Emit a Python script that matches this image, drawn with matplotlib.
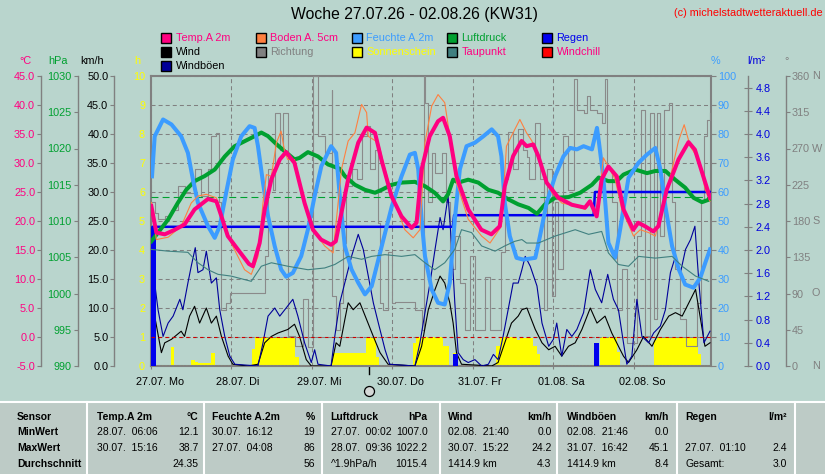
import numpy as np
import matplotlib
matplotlib.use("Agg")
import matplotlib.pyplot as plt
from matplotlib.patches import Rectangle
from matplotlib.lines import Line2D
from matplotlib.transforms import blended_transform_factory

plt.rcParams['font.family'] = ['Liberation Sans', 'DejaVu Sans']
plt.rcParams['lines.scale_dashes'] = False

# ---------------- data (time in hours from 27.07. 00:00) ----------------
day_labels = ["27.07. Mo", "28.07. Di", "29.07. Mi", "30.07. Do", "31.07. Fr", "01.08. Sa", "02.08. So"]

temp_t = [0.1,1.6,4.1,7.1,10.0,13.0,17.0,19.5,21.0,22.9,25.9,29.2,30.4,32.4,33.9,35.9,38.4,40.3,42.8,45.8,
          48.3,50.7,53.7,55.1,56.3,58.8,61.8,64.3,66.8,68.7,71.7,74.7,77.7,79.2,80.7,83.1,85.6,87.1,89.1,91.1,
          94.6,98.5,101.5,104.0,105.5,108.0,110.5,112.0,114.0,115.5,118.0,121.5,125.5,129.4,130.9,132.9,134.4,
          136.4,138.9,140.9,143.8,145.3,147.3,149.8,151.3,153.8,157.3,160.3,162.2,164.7,166.7]
temp_v = [22.6,18.0,17.7,18.5,19.4,22.0,23.8,23.4,20.8,17.4,15.1,12.6,12.2,16.2,22.0,27.2,30.6,31.9,30.0,23.1,
          18.5,16.8,15.9,16.5,20.0,27.2,33.5,36.1,35.2,30.6,24.3,20.8,18.8,19.7,28.9,34.6,37.2,37.8,34.6,27.7,
          22.0,18.5,17.7,19.1,26.0,31.2,33.8,32.9,33.2,31.2,26.6,24.0,22.8,22.3,23.4,20.8,27.2,29.4,27.7,22.0,
          18.5,19.7,19.1,18.2,19.1,25.4,30.6,33.6,32.3,27.7,24.0]

soil_t = [0.1,1.6,5.1,9.0,12.0,14.0,16.5,19.5,21.0,23.9,27.9,29.9,31.9,33.4,34.4,35.9,37.4,38.8,39.9,40.8,
          42.8,45.8,48.8,51.8,54.3,56.8,58.8,60.8,62.8,64.3,64.8,67.8,69.8,72.7,75.7,78.2,80.2,81.7,83.7,85.6,
          87.6,89.1,91.1,94.6,98.6,101.1,104.5,106.0,108.5,110.0,112.0,113.6,116.6,119.5,122.5,126.5,129.5,131.0,
          133.0,134.9,136.4,138.4,140.4,143.9,145.9,148.4,150.4,152.4,155.4,157.3,159.0,160.8,163.3,165.3,166.7]
soil_v = [23.2,16.8,17.2,19.1,23.1,24.3,24.6,24.0,20.8,16.2,11.6,10.8,13.9,23.1,28.0,27.7,33.5,35.5,31.8,30.6,
          30.6,22.6,18.0,15.7,14.5,28.9,33.8,35.2,40.1,38.7,34.6,33.5,28.9,23.1,18.5,17.1,18.5,33.5,39.8,41.8,
          40.4,34.6,26.6,20.3,17.4,16.2,19.1,32.9,35.8,37.5,35.2,33.8,28.9,24.9,23.1,22.6,22.0,23.1,20.8,30.9,
          29.4,27.2,22.0,17.4,18.5,18.0,17.4,22.0,28.9,33.8,36.6,32.9,30.6,25.4,23.4]

hum_t = [0.3,1.1,3.6,6.1,9.0,11.0,12.5,14.0,17.0,19.0,20.5,22.4,24.4,26.9,29.4,30.9,31.9,33.4,34.9,36.9,
         38.8,40.3,42.3,44.8,46.8,48.8,50.8,53.7,55.2,56.3,57.8,59.8,61.8,63.8,65.8,68.8,71.8,74.7,77.2,78.7,
         79.7,80.7,81.7,83.7,85.6,87.6,89.1,90.6,92.1,94.1,96.6,99.1,101.6,103.5,104.5,105.5,107.0,109.0,111.0,
         114.6,116.0,118.0,120.5,123.0,125.0,127.0,129.0,131.5,133.0,133.6,134.9,136.4,138.4,139.9,142.4,145.4,
         147.9,150.4,151.9,153.4,155.4,157.4,159.3,161.8,163.8,165.3,166.7]
hum_v = [65.4,79.2,85.0,83.3,79.2,73.5,64.3,56.3,48.2,44.2,48.2,59.7,71.2,79.2,82.7,82.1,75.8,63.2,51.7,41.3,
         33.3,30.8,32.1,37.9,47.1,58.6,68.9,75.8,73.5,58.6,41.3,33.3,28.7,24.7,27.5,41.3,55.0,65.4,72.9,73.5,
         67.8,50.5,37.9,26.4,21.8,21.2,28.7,50.5,67.8,75.8,77.0,79.2,81.6,79.2,72.3,56.3,44.8,37.3,36.7,37.3,
         44.8,56.3,65.4,72.3,75.2,74.7,75.8,74.7,82.1,77.0,64.9,42.5,37.3,47.1,64.9,70.1,72.9,75.2,67.8,55.0,
         41.3,33.3,28.1,27.0,30.4,35.6,40.2]

pres_t = [0.1,2.1,5.1,8.0,10.5,13.0,16.0,19.0,22.0,24.9,27.9,30.9,32.9,34.9,37.4,39.9,42.8,44.3,46.8,49.8,
          52.8,56.3,57.8,60.8,63.8,66.8,68.8,71.8,74.7,78.7,81.7,84.6,87.1,88.6,90.1,91.6,94.6,97.6,100.6,103.5,
          106.5,109.5,112.6,115.1,117.5,120.5,124.5,128.0,131.5,133.5,136.4,138.9,140.9,144.4,147.9,150.4,153.4,
          156.3,159.3,161.8,164.3,166.7]
pres_v = [1007.2,1008.4,1010.2,1012.5,1014.3,1015.5,1016.2,1017.1,1018.9,1020.3,1021.0,1021.7,1022.2,1021.7,
          1020.6,1019.6,1018.5,1018.7,1019.5,1018.9,1017.8,1017.2,1016.2,1015.0,1014.3,1013.9,1014.3,1015.0,
          1015.3,1015.4,1014.8,1013.9,1012.7,1013.7,1015.7,1015.3,1015.7,1015.3,1014.3,1013.9,1013.0,1012.3,
          1011.8,1011.0,1012.3,1013.2,1013.3,1013.9,1015.0,1016.0,1015.5,1015.5,1016.4,1017.1,1016.6,1016.9,
          1016.9,1015.7,1014.6,1013.2,1012.6,1013.0]

dew_t = [0.1,5.1,11.0,14.0,17.0,20.0,23.9,27.9,29.9,32.9,35.9,40.8,46.8,51.8,54.8,58.8,62.8,65.8,69.8,74.7,
         78.7,81.7,84.6,87.6,90.6,92.6,95.6,98.6,102.6,105.5,108.5,110.6,112.0,115.5,120.5,126.5,130.5,134.4,
         136.4,139.4,142.4,145.4,150.4,155.4,158.4,162.4,166.3]
dew_v = [15.1,14.8,14.6,12.8,11.6,10.8,10.5,9.9,9.6,12.2,12.8,12.2,11.6,11.9,12.5,13.9,13.4,13.9,14.2,13.9,
         14.2,12.8,11.6,12.8,15.1,18.5,18.0,15.7,14.8,15.7,16.5,16.8,16.2,16.2,17.4,18.5,17.7,18.2,14.5,12.5,
         12.2,13.9,13.6,13.9,12.2,10.5,9.6]

wind_t = [0.3,1.1,3.1,4.1,6.1,9.0,10.0,11.5,13.0,14.5,16.5,18.0,19.5,21.0,23.0,24.4,28.9,31.9,33.9,35.9,
          37.9,40.8,42.8,44.3,46.3,47.8,53.7,55.2,56.3,57.8,58.8,60.3,62.3,64.3,66.3,68.3,70.7,78.7,80.7,82.7,
          84.7,86.2,87.6,89.1,90.1,91.1,92.6,101.6,103.5,105.5,107.5,109.5,110.6,112.1,114.6,116.6,118.6,120.5,
          122.5,124.5,126.5,128.5,131.0,133.0,135.4,137.4,139.4,140.9,142.4,144.9,146.9,149.4,151.9,154.4,156.4,
          158.4,160.4,162.4,163.9,165.2,166.7]
wind_v = [6.0,8.6,2.3,4.0,4.6,6.0,5.1,8.6,10.3,7.4,10.0,7.4,8.6,5.1,1.7,0.3,0.0,0.3,4.0,5.1,
          5.7,6.3,7.2,5.1,1.1,0.0,0.0,4.0,3.4,8.0,10.9,9.7,10.9,8.0,5.1,2.3,0.3,0.0,3.4,9.7,
          13.2,15.5,14.3,10.9,7.4,2.3,0.3,0.0,0.6,4.0,7.4,8.6,9.7,10.0,6.3,4.0,2.8,3.4,1.7,3.4,
          4.0,6.3,10.0,7.4,8.6,5.7,3.4,1.7,0.6,2.8,5.1,3.4,6.3,8.6,9.2,8.6,10.9,13.2,8.0,3.4,4.0]

gust_t = [0.6,2.1,3.6,5.1,6.6,8.6,9.5,11.0,12.0,13.2,14.0,15.5,16.5,18.0,19.5,20.5,22.0,23.5,25.0,31.9,
          33.4,34.9,36.9,38.4,40.3,42.3,43.8,45.8,47.8,48.8,49.8,53.7,54.8,56.3,58.3,59.8,61.8,63.3,64.8,66.3,
          67.8,69.8,71.2,78.7,80.2,81.7,83.2,84.7,86.2,87.1,88.6,89.6,90.6,91.6,93.1,94.6,96.6,98.6,100.6,102.1,
          103.5,105.0,106.5,108.0,109.5,110.6,111.6,113.1,115.1,116.6,118.6,120.0,121.0,122.5,124.0,125.5,127.0,
          129.0,131.0,132.5,134.4,136.2,137.9,139.4,140.9,141.9,143.4,144.9,146.4,148.4,149.9,151.9,153.4,154.9,
          156.4,157.9,159.4,160.9,162.2,163.4,164.9,166.7]
gust_v = [16.6,9.7,5.1,7.4,8.6,11.5,9.7,14.3,17.2,20.4,16.1,16.6,19.8,14.3,15.2,9.7,5.1,1.7,0.3,0.0,
          4.0,8.6,10.0,8.6,10.0,11.5,8.6,4.0,0.6,2.8,0.3,0.0,5.1,10.9,15.5,18.9,22.7,20.1,15.5,10.9,
          7.4,2.8,0.3,0.0,4.0,9.2,14.3,20.1,25.6,23.5,29.3,21.2,10.9,2.3,1.1,0.6,1.1,0.0,0.3,2.0,
          1.1,5.1,9.7,14.3,14.3,16.6,18.9,17.2,13.8,7.4,3.4,4.6,7.4,1.7,6.3,5.1,6.3,9.2,16.6,13.2,
          10.9,15.8,11.5,9.7,4.0,0.3,1.7,11.5,5.1,4.0,5.7,6.9,9.7,16.1,18.9,16.1,20.1,21.8,24.1,14.3,
          4.0,6.0]

dir_t = [0.1,1.1,2.1,4.1,6.1,8.0,10.0,13.0,15.0,17.0,18.0,19.5,20.2,21.0,22.4,23.5,33.4,33.9,34.9,36.4,
         36.9,38.4,39.3,40.8,42.8,45.3,46.8,48.2,49.8,51.8,54.0,54.1,55.2,56.3,57.2,58.3,59.8,61.3,62.8,64.3,
         65.3,66.8,67.8,68.3,69.3,70.8,71.8,72.8,78.7,80.9,81.3,81.7,82.7,83.7,84.7,86.7,88.1,89.1,90.6,92.1,
         93.6,95.1,96.6,99.6,101.1,104.5,105.5,106.5,108.0,109.5,111.0,112.1,112.6,114.6,116.1,117.1,118.0,119.5,
         120.5,121.5,123.0,124.5,126.0,127.0,129.0,130.0,131.0,133.0,134.4,135.4,135.9,137.4,138.9,140.4,141.9,
         144.9,146.2,147.4,148.9,149.9,150.9,151.9,152.9,154.4,155.4,156.4,157.9,159.4,162.9,163.9,164.9,165.9,166.7]
dir_v = [203,190,182,186,194,223,215,244,211,244,285,289,203,70,78,91,91,136,244,219,
         314,268,314,37,25,83,23,360,285,265,343,87,45,78,153,223,244,232,285,298,
         244,268,178,78,70,141,78,80,70,45,360,327,203,265,240,265,203,120,161,103,
         45,136,45,111,45,141,232,290,244,294,268,260,232,302,232,70,244,87,203,120,
         285,219,356,318,314,335,318,314,302,356,244,203,70,120,29,161,318,37,314,58,
         314,161,318,327,203,120,58,25,78,203,285,306,314]

# sunshine, hours of sun per hour, one list per day
sun_d1 = [0,0,0,0,0,0,0.65,0,0,0,0,0,0.2,0.15,0.1,0.1,0.1,0.1,0.45,0,0,0,0,0]
sun_d2 = [0,0,0,0,0,0,0.6,1,1,1,1,1,1,1,1,1,1,1,1,0.3,0,0,0,0]
sun_d3 = [0,0,0,0,0,0,0.45,0.45,0.45,0.45,0.45,0.45,0.45,0.45,0.45,0.45,1,1,1,0.3,0,0,0,0]
sun_d4 = [0,0,0,0,0,0,0.8,1,1,1,1,1,1,1,1,0.7,0.7,0,0.45,0,0,0,0,0]
sun_d5 = [0,0,0,0,0,0,0,0.7,1,1,1,1,1,0.9,0.95,0.95,0.95,0.95,0.7,0.4,0,0,0,0]
sun_d6 = [0,0,0,0,0,0,0,0,0,0,0,0,0,0,1,1,1,1,1,0.5,0,0,0,0]
sun_d7 = [0,0,0,0,0,0,0.9,1,1,1,1,1,1,1,1,1,1,1,1,0.4,0,0,0,0]

rain_t = [0.0, 90.0, 132.0]
rain_v = [2.4, 0.2, 0.4]

marker_hour = 65.1

sensor_rows = ["Sensor", "MinWert", "MaxWert", "Durchschnitt"]
col_temp = ["Temp.A 2m", "°C", "28.07.  06:06", "12.1", "30.07.  15:16", "38.7", "", "24.35"]
col_hum = ["Feuchte A.2m", "%", "30.07.  16:12", "19", "27.07.  04:08", "86", "", "56"]
col_pres = ["Luftdruck", "hPa", "27.07.  00:02", "1007.0", "28.07.  09:36", "1022.2", "^1.9hPa/h", "1015.4"]
col_wind = ["Wind", "km/h", "02.08.  21:40", "0.0", "30.07.  15:22", "24.2", "1414.9 km", "4.3"]
col_gust = ["Windböen", "km/h", "02.08.  21:46", "0.0", "31.07.  16:42", "45.1", "1414.9 km", "8.4"]
col_rain = ["Regen", "l/m²", "", "", "27.07.  01:10", "2.4", "Gesamt:", "3.0"]

# ---------------- styling ----------------
BG = '#b9d5cd'
TBG = '#bdcbc6'
GRAY = '#808080'
PINK = '#ff0080'
ORANGE = '#ff8040'
HUMC = '#3c9cff'
GREEN = '#00a030'
RAINC = '#0000ee'
NAVY = '#000099'
TEAL = '#408080'
YEL = '#ffff00'
RED = '#ff0000'
FS = 7.8

W, H = 825, 474
fig = plt.figure(figsize=(W / 100, H / 100), dpi=100)
fig.patch.set_facecolor(BG)


def fx(x):
    return x / W


def fy(y):
    return 1 - y / H


L, R, T, B = 151, 711, 76, 366
rect = [fx(L), fy(B), (R - L) / W, (B - T) / H]
ax = fig.add_axes(rect)
ax.set_facecolor(BG)
ax.set_xlim(0, 167)
ax.set_ylim(0, 10)

sunshine = np.array(sun_d1 + sun_d2 + sun_d3 + sun_d4 + sun_d5 + sun_d6 + sun_d7)
hours = np.arange(len(sunshine))
ax.bar(hours, sunshine, width=1.0, align='edge', color=YEL, linewidth=0, zorder=1)

day_ticks = np.arange(len(day_labels)) * 24
ax.set_xticks(day_ticks)
ax.set_xticklabels([])
ax.set_yticks(np.arange(0, 11))
ax.set_yticklabels([str(i) for i in range(11)])
ax.tick_params(axis='y', length=0, pad=4.3, labelcolor=YEL, labelsize=FS)
ax.tick_params(axis='x', length=2.5, width=0.8, color=GRAY, direction='out')
ax.grid(True, color=GRAY, linestyle=(0, (2.9, 2.2)), linewidth=0.75, zorder=2)
ax.set_axisbelow(False)
for s in ax.spines.values():
    s.set_color(GRAY)
    s.set_linewidth(1.5)

btrans = blended_transform_factory(ax.transData, ax.transAxes)
for d, lab in zip(day_ticks, day_labels):
    ax.text(d - 4.5, -0.054, lab, transform=btrans, ha='left', va='center', fontsize=FS, color='black',
            clip_on=False)
ax.plot([marker_hour, marker_hour], [0, -0.026], transform=btrans, color='black', lw=1.0, clip_on=False)
ax.plot([marker_hour], [-0.086], 'o', transform=btrans, ms=7.2, mfc='#d4d8d6', mec='black', mew=0.9,
        clip_on=False)
ax.plot([0, 167], [0.003, 0.003], color=YEL, lw=0.8, ls=(0, (1, 1.5)), zorder=3)


def twin(lims, side, pos, ticks, labels, lcolor, show_spine=True, direction='out', length=4, pad=2):
    a = ax.twinx()
    a.set_ylim(*lims)
    a.patch.set_visible(False)
    for s in a.spines.values():
        s.set_visible(False)
    sp = a.spines[side]
    sp.set_position(('axes', pos))
    sp.set_visible(show_spine)
    sp.set_color(GRAY)
    sp.set_linewidth(1.0)
    if side == 'left':
        a.yaxis.tick_left()
    else:
        a.yaxis.tick_right()
    a.set_yticks(ticks)
    a.set_yticklabels(labels)
    a.tick_params(axis='y', direction=direction, length=length * 0.72, width=0.8, color=GRAY,
                  labelcolor=lcolor, pad=pad * 0.72, labelsize=FS)
    return a


deg_ticks = np.arange(0, 361, 45)
ax_D = twin((0, 360), 'right', (786 - L) / (R - L), deg_ticks, [str(v) for v in deg_ticks], GRAY,
            length=4, pad=1.7)
t_ticks = np.arange(-5, 46, 5)
ax_T_ticks = [f"{v:.1f}" for v in t_ticks]
w_ticks = np.arange(0, 51, 5)
ax_W = twin((0, 50), 'left', (114.3 - L) / (R - L), w_ticks, [f"{v:.1f}" for v in w_ticks], 'black',
            length=4, pad=2)
r_ticks = np.round(np.arange(0, 4.81, 0.4), 1)
ax_R = twin((0, 5), 'right', (748.3 - L) / (R - L), r_ticks, [f"{v:.1f}" for v in r_ticks], '#0000dd',
            direction='inout', length=8, pad=3)
p_ticks = np.arange(990, 1031, 5)
ax_P = twin((990, 1030), 'left', (77.7 - L) / (R - L), p_ticks, [str(v) for v in p_ticks], GREEN,
            length=4, pad=2)
h_ticks = np.arange(0, 101, 10)
ax_H = twin((0, 100), 'right', 1.0, h_ticks, [str(v) for v in h_ticks], HUMC, show_spine=False,
            length=5, pad=2)
ax_T = twin((-5, 45), 'left', (40.7 - L) / (R - L), t_ticks, ax_T_ticks, PINK, length=4, pad=1.5)

# direction
ax_D.plot(dir_t, dir_v, color='#8a8a8a', lw=0.8, drawstyle='steps-post')
dtrans = blended_transform_factory(fig.transFigure, ax_D.transData)
for val, letter in [(360, 'N'), (270, 'W'), (180, 'S'), (90, 'O'), (0, 'N')]:
    ax_D.text(fx(812), val, letter, transform=dtrans, ha='left', va='center', fontsize=FS, color=GRAY,
              clip_on=False)

# wind and gusts
ax_W.plot(wind_t, wind_v, color='black', lw=0.8)
ax_W.plot(gust_t, gust_v, color=NAVY, lw=0.8)

# rain
rain_w = 1.5
ax_R.bar(rain_t, rain_v, width=rain_w, align='edge', color=RAINC, linewidth=0)
rain_cum = np.cumsum(rain_v)
rx, ry = [0.0], [0.0]
prev = 0.0
for t0, c in zip(rain_t, rain_cum):
    rx += [t0, t0 + 0.4]
    ry += [prev, c]
    prev = c
rx.append(temp_t[-1])
ry.append(rain_cum[-1])
ax_R.plot(rx, ry, color=RAINC, lw=1.8)

# pressure
ax_P.axhline(1013.25, color=GREEN, lw=0.8, ls=(0, (5, 3)))
ax_P.plot(pres_t, pres_v, color=GREEN, lw=2.9, solid_joinstyle='round')

# humidity
ax_H.plot(hum_t, hum_v, color=HUMC, lw=2.9, solid_joinstyle='round')

# temperatures
ax_T.axhline(0, color='#cc0000', lw=0.8, ls=(0, (2.5, 2.5)))
ax_T.plot(dew_t, dew_v, color=TEAL, lw=0.8)
ax_T.plot(soil_t, soil_v, color=ORANGE, lw=0.8)
ax_T.plot(temp_t, temp_v, color=PINK, lw=2.9, solid_joinstyle='round')

# ---------------- titles & axis unit labels ----------------
fig.text(fx(414), fy(15), "Woche 27.07.26 - 02.08.26 (KW31)", ha='center', va='center', fontsize=11.3,
         color='black')
fig.text(fx(823), fy(12.5), "(c) michelstadtwetteraktuell.de", ha='right', va='center', fontsize=7.8,
         color=RED)
for x, txt, col in [(25, "°C", PINK), (57.5, "hPa", GREEN), (92, "km/h", 'black'), (137.5, "h", YEL),
                    (715, "%", HUMC), (756.5, "l/m²", '#0000dd'), (787, "°", GRAY)]:
    fig.text(fx(x), fy(61), txt, ha='center', va='center', fontsize=FS, color=col)

# ---------------- legend ----------------
legend_rows = [
    [("Temp.A 2m", PINK, PINK), ("Boden A. 5cm", ORANGE, PINK), ("Feuchte A.2m", HUMC, HUMC),
     ("Luftdruck", GREEN, GREEN), ("Regen", RAINC, RAINC)],
    [("Wind", 'black', 'black'), ("Richtung", GRAY, GRAY), ("Sonnenschein", YEL, YEL),
     ("Taupunkt", TEAL, PINK), ("Windchill", RED, PINK)],
    [("Windböen", NAVY, 'black')],
]
leg_x = [161, 256, 352, 447, 542]
leg_y = [37.7, 51.7, 65.7]
for r, row in enumerate(legend_rows):
    for c, (lab, bc, tc) in enumerate(row):
        x0, y0 = leg_x[c], leg_y[r]
        fig.add_artist(Rectangle((fx(x0), fy(y0 + 5)), 10 / W, 10 / H, transform=fig.transFigure,
                                 facecolor=bc, edgecolor='black', linewidth=1.0))
        fig.text(fx(x0 + 14.5), fy(y0), lab, ha='left', va='center', fontsize=FS, color=tc)

# ---------------- statistics table ----------------
fig.add_artist(Rectangle((0, 0), 1, fy(402), transform=fig.transFigure, facecolor=TBG, edgecolor='none'))
fig.add_artist(Line2D([0, 1], [fy(402), fy(402)], transform=fig.transFigure, color='white', lw=1.5))
for xs in [87, 204, 322, 440, 557, 677, 795]:
    fig.add_artist(Line2D([fx(xs), fx(xs)], [0, fy(402)], transform=fig.transFigure, color='white', lw=1.5))

row_y = [416.7, 431.7, 447.7, 464.0]
TFS = 7.5
for yv, lab in zip(row_y, sensor_rows):
    fig.text(fx(17), fy(yv), lab, ha='left', va='center', fontsize=TFS, fontweight='bold', color='black')

cols = [col_temp, col_hum, col_pres, col_wind, col_gust, col_rain]
col_left = [96.7, 212.3, 330.7, 448.3, 566.7, 685]
col_right = [198.5, 315, 427.5, 551.5, 669, 787]
for col, xl, xr in zip(cols, col_left, col_right):
    fig.text(fx(xl), fy(row_y[0]), col[0], ha='left', va='center', fontsize=TFS, fontweight='bold')
    fig.text(fx(xr), fy(row_y[0]), col[1], ha='right', va='center', fontsize=TFS, fontweight='bold')
    for k in range(3):
        fig.text(fx(xl), fy(row_y[k + 1]), col[2 + 2 * k], ha='left', va='center', fontsize=TFS)
        fig.text(fx(xr), fy(row_y[k + 1]), col[3 + 2 * k], ha='right', va='center', fontsize=TFS)

fig.savefig("out.png", dpi=100, facecolor=BG)
